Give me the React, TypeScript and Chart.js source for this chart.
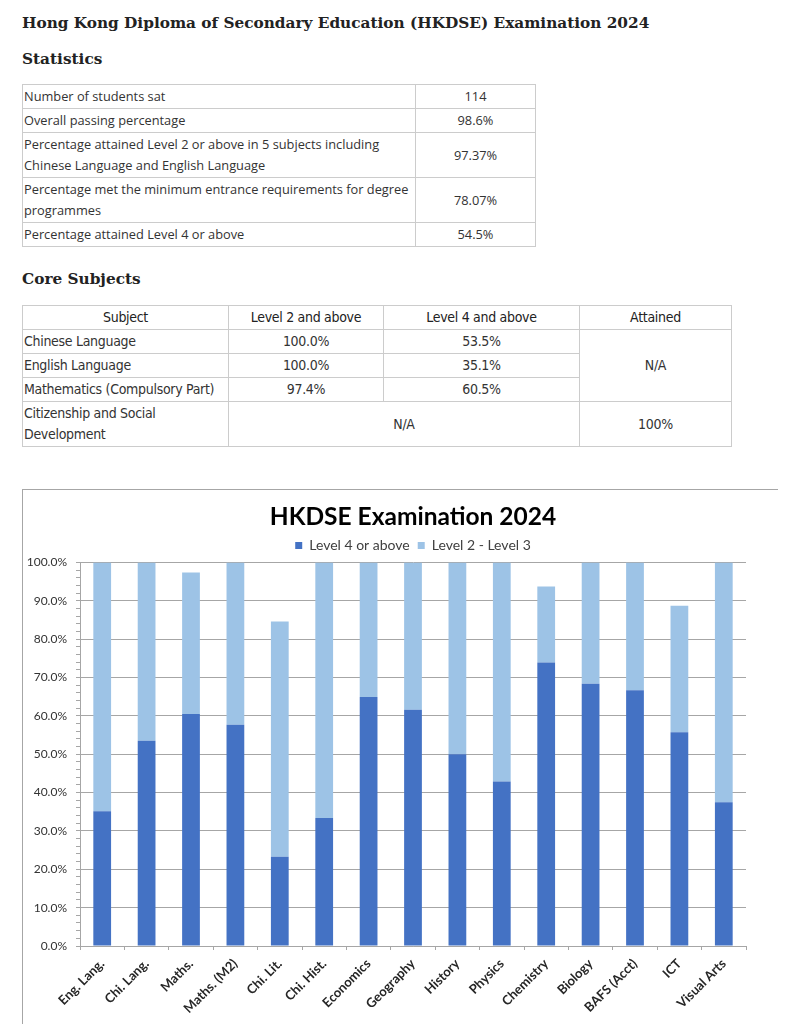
import React, { useEffect, useRef } from "react";
import { Chart, registerables } from "chart.js";

Chart.register(...registerables);

// ---- Page data ----
const pageTitle = "Hong Kong Diploma of Secondary Education (HKDSE) Examination 2024";
const statsHeading = "Statistics";
const statLabels = [
  ["Number of students sat"],
  ["Overall passing percentage"],
  ["Percentage attained Level 2 or above in 5 subjects including", "Chinese Language and English Language"],
  ["Percentage met the minimum entrance requirements for degree", "programmes"],
  ["Percentage attained Level 4 or above"],
];
const statValues = ["114", "98.6%", "97.37%", "78.07%", "54.5%"];

const coreHeading = "Core Subjects";
const coreHeaders = ["Subject", "Level 2 and above", "Level 4 and above", "Attained"];
const coreSubjects = ["Chinese Language", "English Language", "Mathematics (Compulsory Part)"];
const coreLevel2 = ["100.0%", "100.0%", "97.4%"];
const coreLevel4 = ["53.5%", "35.1%", "60.5%"];
const coreAttained = "N/A";
const csdLabel = ["Citizenship and Social", "Development"];
const csdLevels = "N/A";
const csdAttained = "100%";

// ---- Chart data ----
const chartTitle = "HKDSE Examination 2024";
const seriesNames = ["Level 4 or above", "Level 2 - Level 3"];
const subjects = [
  "Eng. Lang.", "Chi. Lang.", "Maths.", "Maths. (M2)", "Chi. Lit.", "Chi. Hist.", "Economics",
  "Geography", "History", "Physics", "Chemistry", "Biology", "BAFS (Acct)", "ICT", "Visual Arts",
];
const level4OrAbove = [35.1, 53.5, 60.5, 57.7, 23.3, 33.4, 64.9, 61.6, 50.0, 42.9, 73.9, 68.4, 66.7, 55.7, 37.5];
const level2To3 = [64.9, 46.5, 36.9, 42.3, 61.3, 66.6, 35.1, 38.4, 50.0, 57.1, 19.8, 31.6, 33.3, 33.0, 62.5];
const yMin = 0;
const yMax = 100;
const yMinorStep = 2;
const yMajorStep = 10;

const GRID = "#a6a6a6";

function HkdseChart() {
  const ref = useRef<HTMLCanvasElement | null>(null);
  useEffect(() => {
    if (!ref.current) return;
    const chart = new Chart(ref.current, {
      type: "bar",
      data: {
        labels: subjects,
        datasets: [
          { label: seriesNames[0], data: level4OrAbove, backgroundColor: "#4472C4", borderWidth: 0 },
          { label: seriesNames[1], data: level2To3, backgroundColor: "#9DC3E6", borderWidth: 0 },
        ],
      },
      options: {
        animation: false,
        responsive: false,
        devicePixelRatio: 1,
        layout: { padding: { top: 0, right: 33, bottom: 0, left: 0 } },
        datasets: { bar: { barPercentage: 0.4, categoryPercentage: 1 } },
        plugins: {
          tooltip: { enabled: false },
          title: {
            display: true,
            text: chartTitle,
            fullSize: false,
            color: "#000000",
            font: { family: "Lato", size: 24.5, weight: "bold", lineHeight: 1.1 },
            padding: { top: 13.5, bottom: 0 },
          },
          legend: {
            display: true,
            fullSize: false,
            labels: {
              boxWidth: 7,
              boxHeight: 7,
              padding: 8,
              color: "#404040",
              font: { family: "Lato", size: 14 },
            },
          },
        },
        scales: {
          x: {
            stacked: true,
            afterFit: (scale: any) => { scale.height = 104; },
            grid: {
              display: true,
              offset: true,
              drawOnChartArea: false,
              drawTicks: true,
              tickLength: 4,
              tickColor: GRID,
            },
            border: { display: true, color: GRID },
            ticks: {
              autoSkip: false,
              minRotation: 45,
              maxRotation: 45,
              padding: 6,
              color: "#262626",
              font: { family: "Lato", size: 13, weight: "bold" },
            },
          },
          y: {
            stacked: true,
            min: yMin,
            max: yMax,
            afterFit: (scale: any) => { scale.width = 57; },
            grid: {
              color: (ctx: any) => (Math.round(ctx.tick.value) % yMajorStep === 0 ? GRID : "rgba(0,0,0,0)"),
              tickColor: GRID,
              tickLength: 4,
              drawTicks: true,
            },
            border: { display: true, color: GRID },
            ticks: {
              stepSize: yMinorStep,
              autoSkip: false,
              padding: 9,
              color: "#333333",
              font: { family: "Lato", size: 12 },
              callback: (v: any) => (Math.round(Number(v)) % yMajorStep === 0 ? Number(v).toFixed(1) + "%" : ""),
            },
          },
        },
      },
    });
    return () => chart.destroy();
  }, []);
  return <canvas ref={ref} width={756} height={560} style={{ display: "block" }} />;
}

const cellBorder = "1px solid #cccccc";

export default function App() {
  const headStyle: React.CSSProperties = {
    position: "absolute",
    left: 14,
    margin: 0,
    fontFamily: "'DejaVu Serif', serif",
    fontWeight: "bold",
    fontSize: 15.3,
    lineHeight: "20px",
    color: "#222",
    whiteSpace: "nowrap",
  };
  const statTd: React.CSSProperties = {
    border: cellBorder,
    padding: "1px 1px",
    lineHeight: "21px",
    verticalAlign: "middle",
  };
  const coreTd: React.CSSProperties = {
    border: cellBorder,
    padding: "1px 1px",
    lineHeight: "21px",
    verticalAlign: "middle",
  };
  return (
    <div style={{ position: "relative", width: 770, height: 1100 }}>
      <div style={{ ...headStyle, top: 5 }}>{pageTitle}</div>
      <div style={{ ...headStyle, top: 41 }}>{statsHeading}</div>
      <table
        style={{
          position: "absolute",
          left: 14,
          top: 76,
          width: 513,
          borderCollapse: "collapse",
          fontFamily: "'Open Sans', sans-serif",
          fontSize: 12.8,
          color: "#333",
          tableLayout: "fixed",
        }}
      >
        <colgroup>
          <col style={{ width: 393 }} />
          <col style={{ width: 120 }} />
        </colgroup>
        <tbody>
          {statLabels.map((lines, i) => (
            <tr key={i}>
              <td style={statTd}>
                {lines.map((l, j) => (
                  <React.Fragment key={j}>
                    {j > 0 && <br />}
                    {l}
                  </React.Fragment>
                ))}
              </td>
              <td style={{ ...statTd, textAlign: "center" }}>{statValues[i]}</td>
            </tr>
          ))}
        </tbody>
      </table>
      <div style={{ ...headStyle, top: 261 }}>{coreHeading}</div>
      <table
        style={{
          position: "absolute",
          left: 14,
          top: 297,
          width: 709,
          borderCollapse: "collapse",
          fontFamily: "'DejaVu Sans Condensed', sans-serif",
          fontSize: 14,
          letterSpacing: "-0.3px",
          color: "#333",
          tableLayout: "fixed",
        }}
      >
        <colgroup>
          <col style={{ width: 206 }} />
          <col style={{ width: 155 }} />
          <col style={{ width: 196 }} />
          <col style={{ width: 152 }} />
        </colgroup>
        <tbody>
          <tr>
            {coreHeaders.map((h, i) => (
              <td key={i} style={{ ...coreTd, textAlign: "center", color: "#222" }}>{h}</td>
            ))}
          </tr>
          {coreSubjects.map((s, i) => (
            <tr key={i}>
              <td style={{ ...coreTd, whiteSpace: "nowrap" }}>{s}</td>
              <td style={{ ...coreTd, textAlign: "center" }}>{coreLevel2[i]}</td>
              <td style={{ ...coreTd, textAlign: "center" }}>{coreLevel4[i]}</td>
              {i === 0 && (
                <td rowSpan={3} style={{ ...coreTd, textAlign: "center" }}>{coreAttained}</td>
              )}
            </tr>
          ))}
          <tr>
            <td style={coreTd}>
              {csdLabel[0]}
              <br />
              {csdLabel[1]}
            </td>
            <td colSpan={2} style={{ ...coreTd, textAlign: "center" }}>{csdLevels}</td>
            <td style={{ ...coreTd, textAlign: "center" }}>{csdAttained}</td>
          </tr>
        </tbody>
      </table>
      <div
        style={{
          position: "absolute",
          left: 14,
          top: 481,
          width: 756,
          height: 560,
          border: "1px solid #a6a6a6",
          background: "#fff",
        }}
      >
        <HkdseChart />
      </div>
    </div>
  );
}
